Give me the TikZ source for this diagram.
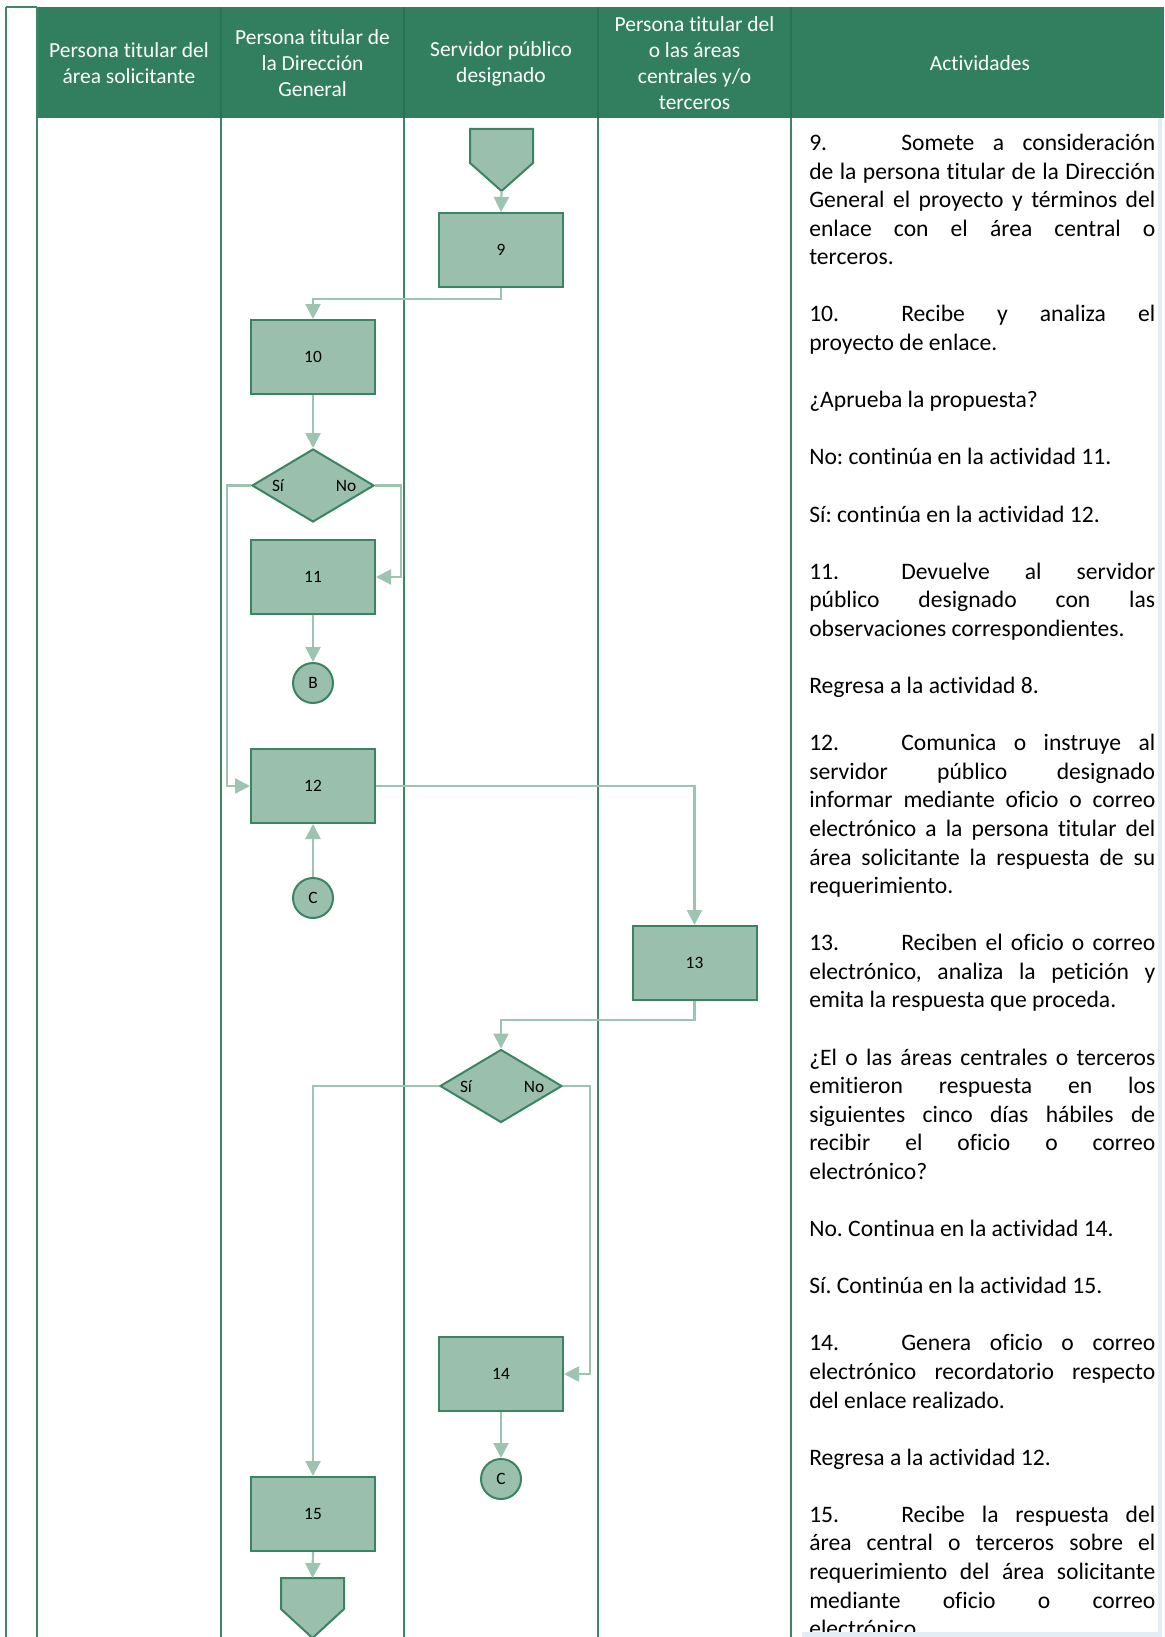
\documentclass[tikz,border=0pt]{standalone}
\usepackage{fontspec}
\setmainfont{Carlito}[Ligatures=NoCommon]
\usetikzlibrary{arrows.meta,shapes.geometric}
\definecolor{hdr}{HTML}{317F5F}
\definecolor{hdrline}{HTML}{2A7254}
\definecolor{lane}{HTML}{3D8767}
\definecolor{bfill}{HTML}{9BBFAD}
\definecolor{bdraw}{HTML}{3B8463}
\definecolor{conn}{HTML}{9DC4B1}
\definecolor{shadowc}{HTML}{E4ECF4}
\newlength\actw \setlength\actw{259.5pt}
\newlength\actt \setlength\actt{69pt}
\newlength\actr \setlength\actr{\dimexpr\actw-\actt\relax}
\newcommand\actj[1]{\makebox[\actw][s]{#1}\par}
\newcommand\actl[1]{#1\par}
\newcommand\actb{\mbox{}\par}
\newcommand\actn[2]{\makebox[\actt][l]{#1}\makebox[\actr][s]{#2}\par}
\newcommand\actsetup{\spaceskip=0pt\xspaceskip=0pt\parindent=0pt\parskip=0pt\frenchspacing}
\tikzset{
  lanel/.style={draw=lane, line width=1.5pt},
  proc/.style={draw=bdraw, fill=bfill, line width=1.5pt, minimum width=93pt, minimum height=55.5pt, inner sep=0pt, font=\fontsize{13}{15}\selectfont},
  dec/.style={diamond, draw=bdraw, fill=bfill, line width=1.5pt, minimum width=91.5pt, minimum height=54.75pt, inner sep=0pt},
  conncirc/.style={circle, draw=bdraw, fill=bfill, line width=1.5pt, minimum size=30pt, inner sep=0pt, font=\fontsize{13}{15}\selectfont},
  offp/.style={draw=bdraw, fill=bfill, line width=1.5pt},
  conn/.style={draw=conn, line width=1.65pt, -{Triangle[length=11.25pt, width=11.25pt]}},
  lbl/.style={inner sep=0pt, font=\fontsize{13}{15}\selectfont},
  hdrtext/.style={text=white, align=center, inner sep=0pt, font=\fontsize{16.1}{19.5}\selectfont},
  actext/.style={text width=259.5pt, inner sep=0pt, font=\fontsize{17.7}{21.435}\selectfont}
}
\begin{document}
\begin{tikzpicture}[x=0.75pt, y=-0.75pt]
\useasboundingbox (0,0) rectangle (1164,1637);
\fill[white] (0,0) rectangle (1164,1637);
% header
\fill[hdr] (37,7.3) rectangle (1164,118);
\foreach \xx in {221,404,598,791} \draw[hdrline, line width=1.2pt] (\xx,7.3) -- (\xx,118);
% lanes
\draw[lanel] (5.7,7.3) -- (37,7.3);
\draw[lanel] (5.7,7.3) -- (5.7,1637);
\draw[lanel] (37,7.3) -- (37,1637);
\foreach \xx in {221,404,598,791} \draw[lanel] (\xx,118) -- (\xx,1637);
% header texts
\node[hdrtext] (h1) at (129,63.5) {Persona titular del\\área solicitante};
\node[hdrtext] (h2) at (312.5,63.5) {Persona titular de\\la Dirección\\General};
\node[hdrtext] (h3) at (501,63.5) {Servidor público\\designado};
\node[hdrtext] (h4) at (694.5,63.5) {Persona titular del\\o las áreas\\centrales y/o\\terceros};
\node[hdrtext] (h5) at (980,63.5) {Actividades};
% off-page connectors
\draw[offp] (470,129) -- (533,129) -- (533,163) -- (501.5,191) -- (470,163) -- cycle;
\coordinate (op1tip) at (501.5,191);
\draw[offp] (281,1578) -- (344,1578) -- (344,1609) -- (312.5,1638) -- (281,1609) -- cycle;
\coordinate (op2top) at (312.5,1578);
% shapes
\node[proc] (b9) at (501,250) {9};
\node[proc] (b10) at (313,357) {10};
\node[dec] (d1) at (313,485.5) {};
\node[lbl] (d1si) at (278,485.5) {Sí};
\node[lbl] (d1no) at (346,485.5) {No};
\node[proc] (b11) at (313,577) {11};
\node[conncirc] (cB) at (313,683) {B};
\node[proc] (b12) at (313,786) {12};
\node[conncirc] (cC1) at (313,898) {C};
\node[proc] (b13) at (694.5,963) {13};
\node[dec] (d2) at (501,1086) {};
\node[lbl] (d2si) at (466,1086.5) {Sí};
\node[lbl] (d2no) at (534,1086.5) {No};
\node[proc] (b14) at (501,1374) {14};
\node[conncirc] (cC2) at (501,1479) {C};
\node[proc] (b15) at (313,1514) {15};
% connectors
\draw[conn] (op1tip) -- (b9.north);
\draw[conn] (b9.south) -- ++(0,11) -| (b10.north);
\draw[conn] (b10.south) -- (d1.north);
\draw[conn] (d1.west) -- ++(-24,0) |- (b12.west);
\draw[conn] (d1.east) -- ++(26,0) |- (b11.east);
\draw[conn] (b11.south) -- (cB.north);
\draw[conn] (cC1.north) -- (b12.south);
\draw[conn] (b12.east) -| (b13.north);
\draw[conn] (b13.south) -- ++(0,19) -| (d2.north);
\draw[conn] (d2.west) -| (b15.north);
\draw[conn] (d2.east) -- ++(27,0) |- (b14.east);
\draw[conn] (b14.south) -- (cC2.north);
\draw[conn] (b15.south) -- (op2top);
% activities text
\node[actext, anchor=base west] (act) at (809,150.5) {\actsetup
\actn{9.}{Somete a consideración}
\actj{de la persona titular de la Dirección}
\actj{General el proyecto y términos del}
\actj{enlace con el área central o}
\actl{terceros.}
\actb
\actn{10.}{Recibe y analiza el}
\actl{proyecto de enlace.}
\actb
\actl{¿Aprueba la propuesta?}
\actb
\actl{No: continúa en la actividad 11.}
\actb
\actl{Sí: continúa en la actividad 12.}
\actb
\actn{11.}{Devuelve al servidor}
\actj{público designado con las}
\actl{observaciones correspondientes.}
\actb
\actl{Regresa a la actividad 8.}
\actb
\actn{12.}{Comunica o instruye al}
\actj{servidor público designado}
\actj{informar mediante oficio o correo}
\actj{electrónico a la persona titular del}
\actj{área solicitante la respuesta de su}
\actl{requerimiento.}
\actb
\actn{13.}{Reciben el oficio o correo}
\actj{electrónico, analiza la petición y}
\actl{emita la respuesta que proceda.}
\actb
\actj{¿El o las áreas centrales o terceros}
\actj{emitieron respuesta en los}
\actj{siguientes cinco días hábiles de}
\actj{recibir el oficio o correo}
\actl{electrónico?}
\actb
\actl{No. Continua en la actividad 14.}
\actb
\actl{Sí. Continúa en la actividad 15.}
\actb
\actn{14.}{Genera oficio o correo}
\actj{electrónico recordatorio respecto}
\actl{del enlace realizado.}
\actb
\actl{Regresa a la actividad 12.}
\actb
\actn{15.}{Recibe la respuesta del}
\actj{área central o terceros sobre el}
\actj{requerimiento del área solicitante}
\actj{mediante oficio o correo}
\actl{electrónico.}
};
% text box edge
\fill[shadowc] (1158,118) rectangle (1162,1637);
\fill[shadowc] (802,1632) rectangle (1162,1637);
\end{tikzpicture}
\end{document}
